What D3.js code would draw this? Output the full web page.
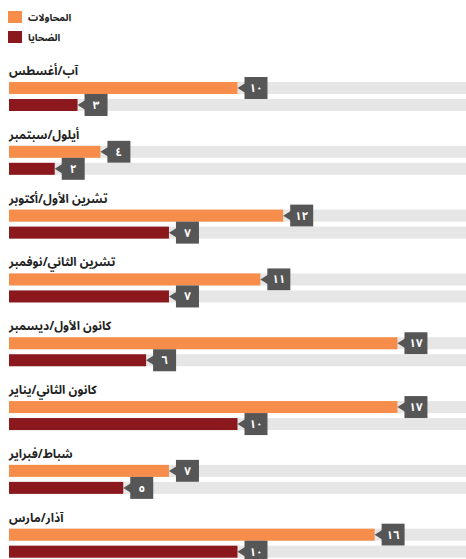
<!DOCTYPE html>
<html><head><meta charset="utf-8">
<script src="https://cdn.jsdelivr.net/npm/d3@7/dist/d3.min.js"></script>
<style>body{margin:0;background:#fff}svg{display:block}</style>
</head><body>
<svg id="c" width="466" height="559"></svg>
<script>
const months = ["آب/أغسطس","أيلول/سبتمبر","تشرين الأول/أكتوبر","تشرين الثاني/نوفمبر","كانون الأول/ديسمبر","كانون الثاني/يناير","شباط/فبراير","آذار/مارس"];
const attempts = [10,4,12,11,17,17,7,16];
const victims = [3,2,7,7,6,10,5,10];
const seriesNames = ["المحاولات","الضحايا"];
const colors = ["#F68D4A","#8A181C"];

const svg = d3.select("#c");
const font = "'Noto Sans Arabic','DejaVu Sans', sans-serif";
const toAr = n => String(n).replace(/\d/g, d => "٠١٢٣٤٥٦٧٨٩"[d]);

const x = d3.scaleLinear().domain([0,20]).range([9,466]);
const y = d3.scaleBand().domain(months).range([57.5,568]).paddingInner(0).paddingOuter(0);

// legend
const lg = svg.append("g");
seriesNames.forEach((s,i)=>{
  lg.append("rect").attr("x",8).attr("y",11+i*20).attr("width",14).attr("height",12).attr("fill",colors[i]);
  lg.append("text").attr("x",28).attr("y",20.5+i*20).text(s)
    .attr("font-family",font).attr("font-size",10).attr("font-weight","bold").attr("fill","#222");
});

const g = svg.append("g");
months.forEach((m,i)=>{
  const top = y(m);
  g.append("text").attr("x",9).attr("y",top+17.5).text(m)
    .attr("font-family",font).attr("font-size",12).attr("font-weight","bold").attr("fill","#222");
  [attempts[i], victims[i]].forEach((v,j)=>{
    const by = top + 24.5 + j*17;
    const bh = 12;
    g.append("rect").attr("x",x(0)).attr("y",by).attr("width",x(20)-x(0)).attr("height",bh).attr("fill","#E6E6E6");
    g.append("rect").attr("x",x(0)).attr("y",by).attr("width",x(v)-x(0)).attr("height",bh).attr("fill",colors[j]);
    const ex = x(v), cy = by + bh/2;
    g.append("path").attr("d",`M${ex},${cy}L${ex+8},${cy-5}L${ex+8},${cy+5}Z`).attr("fill","#565656");
    g.append("rect").attr("x",ex+7).attr("y",cy-11).attr("width",23).attr("height",22).attr("fill","#565656");
    g.append("text").attr("x",ex+18.5).attr("y",cy+4).attr("text-anchor","middle").text(toAr(v))
      .attr("font-family",font).attr("font-size",11.5).attr("font-weight","bold").attr("fill","#fff");
  });
});
</script>
</body></html>
